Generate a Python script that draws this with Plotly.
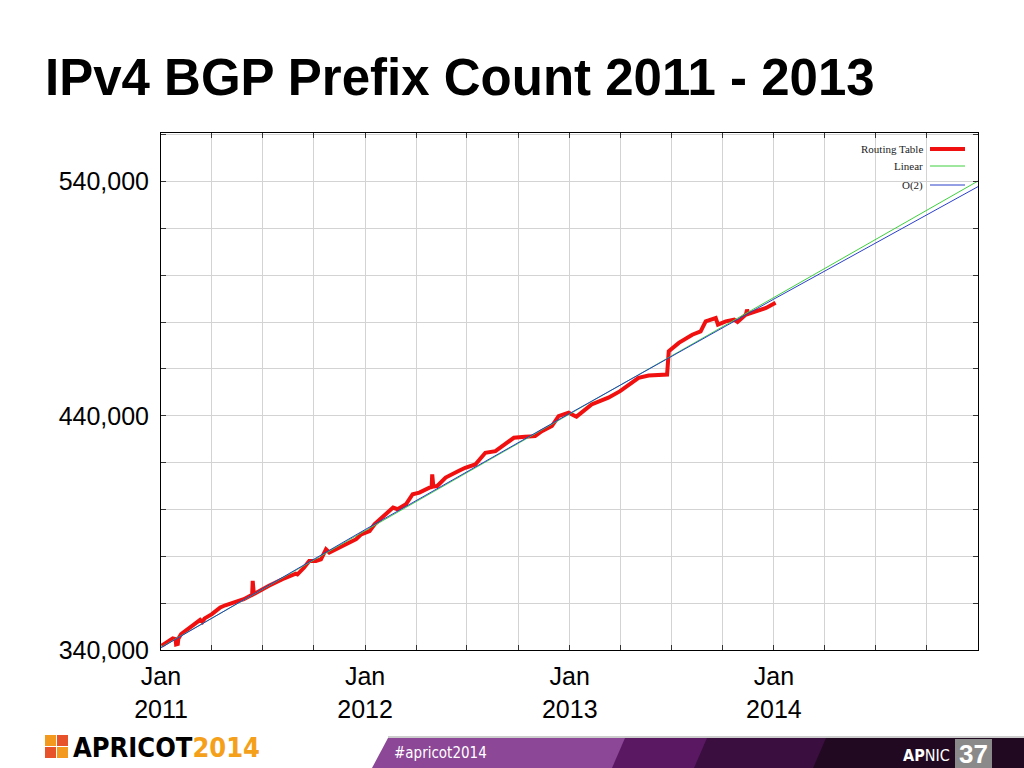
import plotly.graph_objects as go

# ---- data ----
dates = [
    "2011-01-02", "2011-01-15", "2011-01-22", "2011-01-27", "2011-01-28", "2011-01-31",
    "2011-02-01", "2011-02-06", "2011-02-24", "2011-03-12", "2011-03-16", "2011-03-20",
    "2011-04-02", "2011-04-17", "2011-04-26", "2011-05-11", "2011-05-29", "2011-06-13",
    "2011-06-14", "2011-06-16", "2011-06-25", "2011-07-13", "2011-08-06", "2011-08-18",
    "2011-08-30", "2011-09-02", "2011-09-14", "2011-09-23", "2011-10-05", "2011-10-14",
    "2011-10-23", "2011-10-29", "2011-11-16", "2011-12-04", "2011-12-16", "2011-12-25",
    "2012-01-09", "2012-01-18", "2012-01-30", "2012-02-20", "2012-02-28", "2012-03-14",
    "2012-03-26", "2012-04-07", "2012-04-25", "2012-04-29", "2012-04-30", "2012-05-02",
    "2012-05-09", "2012-05-24", "2012-06-16", "2012-06-28", "2012-07-16", "2012-08-03",
    "2012-08-21", "2012-09-08", "2012-09-23", "2012-10-13", "2012-10-31", "2012-11-12",
    "2012-11-30", "2012-12-12", "2012-12-30", "2013-01-11", "2013-01-13", "2013-02-09",
    "2013-03-11", "2013-04-01", "2013-04-16", "2013-05-04", "2013-05-22", "2013-06-09",
    "2013-06-24", "2013-06-27", "2013-07-15", "2013-08-08", "2013-08-23", "2013-09-01",
    "2013-09-19", "2013-09-23", "2013-10-07", "2013-10-22", "2013-10-28", "2013-11-12",
    "2013-11-14", "2013-11-16", "2013-11-30", "2013-12-18", "2014-01-04",
]
prefixes = [
    341800, 344000, 344900, 344600, 342400, 342600,
    344800, 346800, 350300, 352900, 352000, 353500,
    355300, 358200, 359100, 360300, 361700, 363600,
    369500, 363900, 365200, 367400, 370200, 371600,
    372600, 372300, 375200, 378000, 378000, 378700,
    383000, 381600, 383700, 385900, 387300, 389400,
    390800, 393700, 396500, 400800, 400100, 402200,
    406500, 407200, 409300, 409500, 415000, 409800,
    410000, 413600, 416400, 417800, 419200, 424200,
    424900, 427800, 430600, 431000, 431300, 433400,
    435600, 439800, 441300, 439800, 439600, 444800,
    447700, 450500, 453300, 456200, 457200, 457200,
    457600, 467500, 471100, 474600, 476000, 480300,
    481700, 478900, 480300, 481000, 480000, 483200,
    485300, 483500, 484600, 486000, 488200,
]

fit_dates = ["2011-01-01", "2012-01-01", "2013-01-01", "2014-01-01", "2015-01-01"]
linear_fit = [341200, 390900, 440700, 490400, 540200]
quad_fit = [341000, 391400, 441000, 489800, 537800]

y_ticks = list(range(340000, 560001, 20000))
y_labels = ["340,000", "", "", "", "", "440,000", "", "", "", "", "540,000", ""]
x_ticks = [f"{y}-{m:02d}-01" for y in range(2011, 2015) for m in (1, 4, 7, 10)] + ["2015-01-01"]
x_labels = [f"Jan<br>{d[:4]}" if d[5:7] == "01" and d[:4] != "2015" else "" for d in x_ticks]

# plot area in page pixels
L, R, T, B = 161, 978, 133, 650
def fx(x): return (x - L) / (R - L)
def fy(y): return (B - y) / (B - T)

fig = go.Figure()
fig.add_trace(go.Scatter(x=dates, y=prefixes, mode="lines", name="Routing Table",
                         line=dict(color="#f01010", width=4)))
fig.add_trace(go.Scatter(x=fit_dates, y=linear_fit, mode="lines", name="Linear",
                         line=dict(color="#3fcf3f", width=1)))
fig.add_trace(go.Scatter(x=fit_dates, y=quad_fit, mode="lines", name="O(2)",
                         line=dict(color="#2a3fc8", width=1)))

shapes = []
ann = []

# legend (text left of sample, like gnuplot)
shapes.append(dict(type="rect", xref="paper", yref="paper", layer="between",
                   x0=fx(830), x1=fx(976), y0=fy(195), y1=fy(137),
                   fillcolor="white", line=dict(width=0)))
for name, yy, col, w in [("Routing Table", 149, "#f01010", 4),
                         ("Linear", 166, "#3fcf3f", 1),
                         ("O(2)", 185, "#2a3fc8", 1)]:
    ann.append(dict(xref="paper", yref="paper", x=fx(925), y=fy(yy), text=name,
                    xanchor="right", yanchor="middle", showarrow=False,
                    font=dict(family="Liberation Serif", size=11, color="#222")))
    shapes.append(dict(type="line", xref="paper", yref="paper", x0=fx(930), x1=fx(965),
                       y0=fy(yy), y1=fy(yy), line=dict(color=col, width=w)))

# title
ann.append(dict(xref="paper", yref="paper", x=fx(43), y=fy(78), xanchor="left", yanchor="middle",
                text="<b>IPv4 BGP Prefix Count 2011 - 2013</b>", showarrow=False,
                font=dict(family="Liberation Sans", size=51, color="black")))

# footer: APRICOT logo
for (x0, y0, c) in [(45, 735, "#f39a1e"), (57, 735, "#e8522a"), (45, 747, "#e8522a"), (57, 747, "#f39a1e")]:
    shapes.append(dict(type="rect", xref="paper", yref="paper", x0=fx(x0), x1=fx(x0 + 11),
                       y0=fy(y0 + 11), y1=fy(y0), fillcolor=c, line=dict(width=0)))
ann.append(dict(xref="paper", yref="paper", x=fx(71), y=fy(747), xanchor="left", yanchor="middle",
                text="<b>APRICOT<span style='color:#f5a01a'>2014</span></b>", showarrow=False,
                font=dict(family="DejaVu Sans Condensed, Liberation Sans", size=27, color="black")))

# footer: purple band
def band(xt, xb, col):
    return dict(type="path", xref="paper", yref="paper", fillcolor=col, line=dict(width=0),
                path=f"M {fx(xt)},{fy(738)} L {fx(1024)},{fy(738)} L {fx(1024)},{fy(768)} L {fx(xb)},{fy(768)} Z")
shapes += [band(388, 372, "#8c4796"), band(625, 612, "#5a1862"),
           band(707, 694, "#3b0e40"), band(826, 813, "#220922")]
shapes.append(dict(type="line", xref="paper", yref="paper", x0=fx(388), x1=fx(1024),
                   y0=fy(737), y1=fy(737), line=dict(color="#9a9a9a", width=1)))
ann.append(dict(xref="paper", yref="paper", x=fx(392), y=fy(753), xanchor="left", yanchor="middle",
                text="#apricot2014", showarrow=False,
                font=dict(family="DejaVu Sans Condensed, Liberation Sans", size=15, color="white")))
shapes.append(dict(type="rect", xref="paper", yref="paper", x0=fx(955), x1=fx(992),
                   y0=fy(768), y1=fy(739), fillcolor="#8a8a8a", line=dict(width=0)))
ann.append(dict(xref="paper", yref="paper", x=fx(952), y=fy(755), xanchor="right", yanchor="middle",
                text="<b>AP</b>NIC", showarrow=False,
                font=dict(family="DejaVu Sans Condensed, Liberation Sans", size=16, color="white")))
ann.append(dict(xref="paper", yref="paper", x=fx(973), y=fy(754), xanchor="center", yanchor="middle",
                text="<b>37</b>", showarrow=False,
                font=dict(family="Liberation Sans", size=26, color="white")))

fig.update_layout(
    width=1024, height=768,
    margin=dict(l=L, r=1024 - R, t=T, b=768 - B),
    paper_bgcolor="white", plot_bgcolor="white",
    showlegend=False,
    shapes=shapes, annotations=ann,
    xaxis=dict(range=["2011-01-01", "2015-01-01"], tickmode="array", tickvals=x_ticks, ticktext=x_labels,
               showgrid=True, gridcolor="#d3d3d3", gridwidth=1,
               showline=True, linecolor="black", linewidth=1, mirror="ticks",
               ticks="inside", ticklen=5, tickcolor="#333",
               ticklabelstandoff=4,
               tickfont=dict(family="Liberation Sans", size=25, color="black")),
    yaxis=dict(range=[340000, 560700], tickmode="array", tickvals=y_ticks, ticktext=y_labels,
               showgrid=True, gridcolor="#d3d3d3", gridwidth=1, zeroline=False,
               showline=True, linecolor="black", linewidth=1, mirror="ticks",
               ticks="inside", ticklen=5, tickcolor="#333",
               ticklabelstandoff=6,
               tickfont=dict(family="Liberation Sans", size=25, color="black")),
)

fig.write_html("out.html", config={"displayModeBar": False},
               post_script="document.body.style.margin='0';document.body.style.overflow='hidden';")
